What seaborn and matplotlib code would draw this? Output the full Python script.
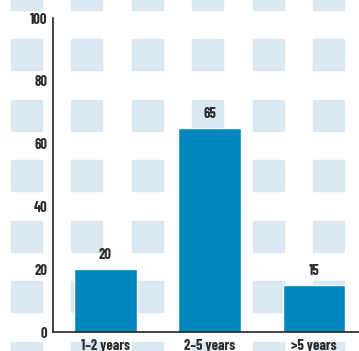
import matplotlib
matplotlib.use("Agg")
import matplotlib.pyplot as plt
from matplotlib.patches import Rectangle
from matplotlib.ticker import FixedLocator
import seaborn as sns
import pandas as pd

# data
categories = ["1–2 years", "2–5 years", ">5 years"]
values = [20, 65, 15]
y_ticks = [0, 20, 40, 60, 80, 100]

bar_color = "#0088BD"
square_color = "#D9E8F1"
text_color = "#2b2b2b"

sns.set_style("white")
plt.rcParams["font.family"] = ["Barlow Condensed", "DejaVu Sans"]
plt.rcParams["font.weight"] = "bold"

W, H = 359, 351
fig = plt.figure(figsize=(W / 100, H / 100), dpi=100)

# background squares pattern (figure pixels)
for i in range(6):
    for j in range(-1, 6):
        x0 = 11 + 60.4 * i
        top = 39 + 60.5 * j
        fig.patches.append(Rectangle((x0 / W, 1 - (top + 31) / H), 31 / W, 31 / H,
                                     transform=fig.transFigure, color=square_color,
                                     zorder=-10))

ax = fig.add_axes([53 / W, 19 / H, (W - 53) / W, (332 - 18) / H])
ax.patch.set_alpha(0)

df = pd.DataFrame({"cat": categories, "val": values})
sns.barplot(data=df, x="cat", y="val", color=bar_color, width=0.6,
            saturation=1, ax=ax)

for i, v in enumerate(values):
    ax.text(i, v + 2.2, str(v), ha="center", va="bottom", fontsize=10.5,
            color=text_color)

ax.set_xlim(-0.5, 2.43)
ax.set_ylim(0, 100)
ax.set_yticks(y_ticks)
ax.set_xlabel("")
ax.set_ylabel("")

for s in ["top", "right"]:
    ax.spines[s].set_visible(False)
for s in ["left", "bottom"]:
    ax.spines[s].set_color("#222222")
    ax.spines[s].set_linewidth(1.2)

ax.tick_params(axis="y", direction="in", length=6, width=1.2, color="#222222",
               labelsize=10.5, labelcolor=text_color, pad=4)
ax.tick_params(axis="x", which="major", length=0, labelsize=10.5,
               labelcolor=text_color, pad=5)
ax.xaxis.set_minor_locator(FixedLocator([0.5, 1.5]))
ax.tick_params(axis="x", which="minor", direction="in", length=5, width=1.2,
               color="#222222")

fig.savefig("out.png", dpi=100)
